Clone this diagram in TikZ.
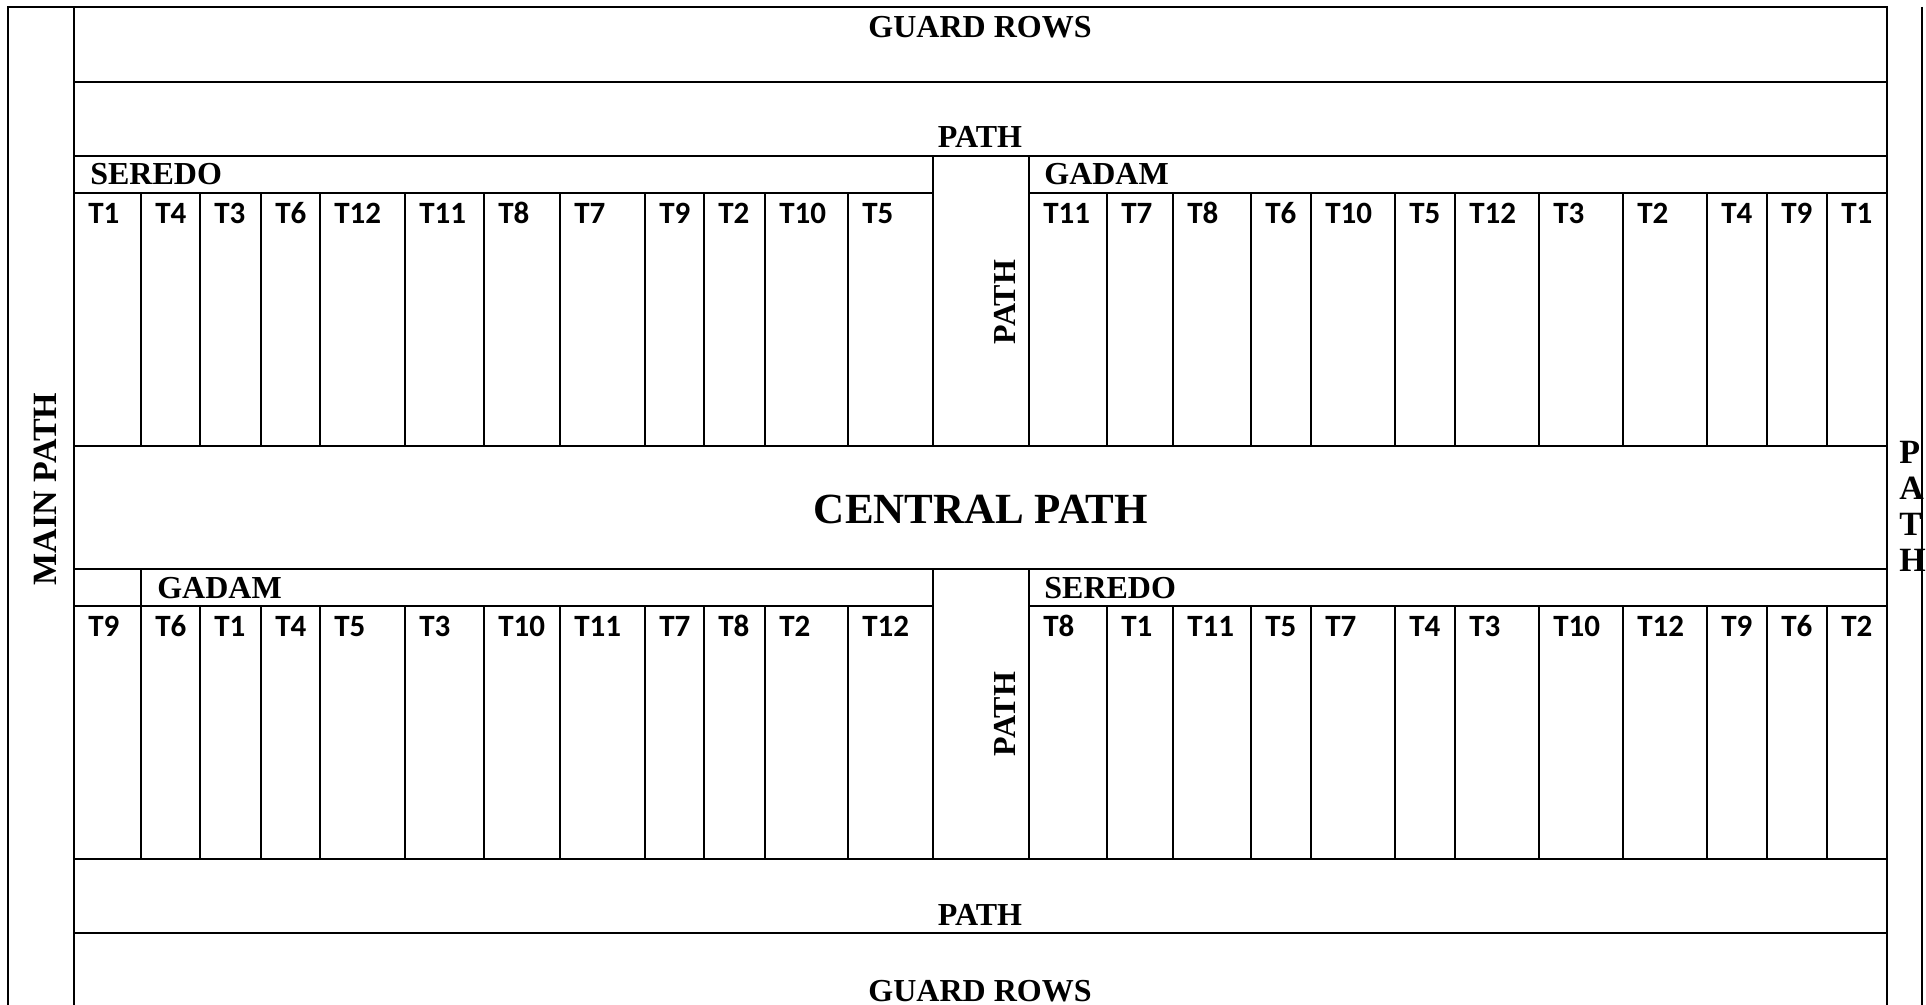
\documentclass[tikz,border=0pt]{standalone}
\usepackage{fontspec}
\setmainfont{Liberation Serif}
\newfontfamily\calib{Carlito}
\begin{document}
\begin{tikzpicture}[x=0.5pt,y=-0.5pt,line width=1.35pt,
  hdr/.style={font=\bfseries\fontsize{16}{19}\selectfont,inner sep=0pt},
  side/.style={font=\bfseries\fontsize{17}{20}\selectfont,inner sep=0pt},
  big/.style={font=\bfseries\fontsize{21.5}{25}\selectfont,inner sep=0pt},
  tl/.style={font=\calib\bfseries\fontsize{15.5}{18}\selectfont,anchor=base west,inner sep=0pt}]
\useasboundingbox (0,0) rectangle (1926,1005);
\begin{scope}
\clip (0,0) rectangle (1926,1005);
% texts
\node[hdr,anchor=base] (guardtop) at (980,38) {GUARD ROWS};
\node[hdr,anchor=base] (pathtop) at (980,148) {PATH};
\node[hdr,anchor=base west] (seredo1) at (89,185) {SEREDO};
\node[hdr,anchor=base west] (gadam1) at (1043,185) {GADAM};
\node[hdr,anchor=base,rotate=90] (pathv1) at (1015,302) {PATH};
\node[big,anchor=base] (central) at (981,523) {CENTRAL PATH};
\node[hdr,anchor=base west] (gadam2) at (156,598) {GADAM};
\node[hdr,anchor=base west] (seredo2) at (1043,598) {SEREDO};
\node[hdr,anchor=base,rotate=90] (pathv2) at (1015,714) {PATH};
\node[hdr,anchor=base] (pathbot) at (980,925) {PATH};
\node[hdr,anchor=base] (guardbot) at (980,1001) {GUARD ROWS};
\node[side,anchor=base,rotate=90] (mainpath) at (56,489) {MAIN PATH};
\node[side,anchor=base west] (rp1) at (1898,463) {P};
\node[side,anchor=base west] (rp2) at (1898,499) {A};
\node[side,anchor=base west] (rp3) at (1898,535) {T};
\node[side,anchor=base west] (rp4) at (1898,571) {H};
% treatment labels
\foreach \x/\t [count=\i] in {74/T1,141/T4,200/T3,261/T6,320/T12,405/T11,484/T8,560/T7,645/T9,704/T2,765/T10,848/T5,
  1029/T11,1107/T7,1173/T8,1251/T6,1311/T10,1395/T5,1455/T12,1539/T3,1623/T2,1707/T4,1767/T9,1827/T1}
  \node[tl] (up\i) at (\x+13,224) {\t};
\foreach \x/\t [count=\i] in {74/T9,141/T6,200/T1,261/T4,320/T5,405/T3,484/T10,560/T11,645/T7,704/T8,765/T2,848/T12,
  1029/T8,1107/T1,1173/T11,1251/T5,1311/T7,1395/T4,1455/T3,1539/T10,1623/T12,1707/T9,1767/T6,1827/T2}
  \node[tl] (lo\i) at (\x+13,636) {\t};
% frame lines
\draw (8,1010) -- (8,7) -- (1887,7) -- (1887,1010);
\draw (74,7) -- (74,1010);
\draw (1922,7) -- (1922,1010);
\foreach \y in {82,156,446,569,859,933}
  \draw (74,\y) -- (1887,\y);
\foreach \y in {193,606}{
  \draw (74,\y) -- (933,\y);
  \draw (1029,\y) -- (1887,\y);}
\foreach \x in {933,1029}{
  \draw (\x,156) -- (\x,446);
  \draw (\x,569) -- (\x,859);}
\foreach \x in {141,200,261,320,405,484,560,645,704,765,848,1107,1173,1251,1311,1395,1455,1539,1623,1707,1767,1827}{
  \draw (\x,193) -- (\x,446);
  \draw (\x,606) -- (\x,859);}
\draw (141,569) -- (141,606);
\end{scope}
\end{tikzpicture}
\end{document}
